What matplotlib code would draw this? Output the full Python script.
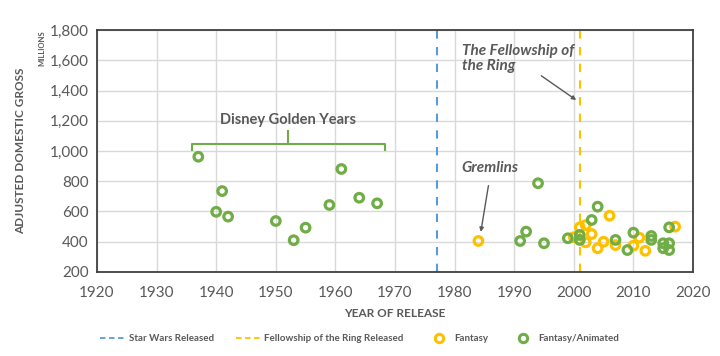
import matplotlib.pyplot as plt
from matplotlib.lines import Line2D

# data
disney_years = [1937, 1940, 1941, 1942, 1950, 1953, 1955, 1959, 1961, 1964, 1967]
disney_gross = [962, 598, 735, 566, 537, 410, 493, 643, 881, 691, 654]

anim_years = [1991, 1992, 1994, 1995, 1999, 2001, 2001, 2003, 2004, 2007, 2009,
              2010, 2013, 2013, 2015, 2015, 2016, 2016, 2016]
anim_gross = [405, 467, 787, 390, 423, 445, 412, 544, 632, 412, 345,
              460, 438, 412, 390, 357, 390, 345, 495]

fantasy_years = [1984, 2000, 2001, 2002, 2002, 2003, 2004, 2005, 2006, 2007,
                 2010, 2011, 2012, 2017]
fantasy_gross = [405, 430, 495, 510, 396, 451, 357, 400, 572, 378,
                 374, 427, 340, 500]

star_wars_year = 1977
fellowship_year = 2001

green = '#70AD47'
yellow = '#FFC000'
blue = '#5B9BD5'
gray = '#595959'

plt.rcParams['font.family'] = ['Lato', 'DejaVu Sans']

fig = plt.figure(figsize=(7.2, 3.56), dpi=100)
ax = fig.add_axes([0.1347, 0.236, 0.8278, 0.6797])

ax.set_xlim(1920, 2020)
ax.set_ylim(200, 1800)
ax.set_xticks(range(1920, 2021, 10))
ax.set_yticks(range(200, 1801, 200))
ax.set_yticklabels(['{:,}'.format(v) for v in range(200, 1801, 200)])
ax.grid(color='#D9D9D9', linewidth=1)
ax.set_axisbelow(True)
for s in ax.spines.values():
    s.set_color('#404040')
    s.set_linewidth(1.3)
ax.tick_params(length=0, labelsize=11, labelcolor=gray)
ax.tick_params(axis='x', pad=10)
ax.tick_params(axis='y', pad=6)

ax.axvline(star_wars_year, color=blue, linestyle=(0, (4, 4)), linewidth=1.5)
ax.axvline(fellowship_year, color=yellow, linestyle=(0, (4, 4)), linewidth=1.5)

mk = dict(marker='o', s=38, facecolors='none', linewidths=2.3, zorder=3)
ax.scatter(fantasy_years, fantasy_gross, edgecolors=yellow, **mk)
ax.scatter(disney_years + anim_years, disney_gross + anim_gross, edgecolors=green, **mk)

# Disney bracket
ax.plot([1936, 1936, 1968.3, 1968.3], [1007, 1046, 1046, 1007], color=green, lw=1.5,
        clip_on=False)
ax.plot([1952, 1952], [1046, 1130], color=green, lw=1.5)
ax.text(1952, 1205, 'Disney Golden Years', ha='center', va='center', fontsize=10.5,
        fontweight='bold', color=gray)

# annotations
ax.annotate('The Fellowship of\nthe Ring', xy=(2000.4, 1337), xytext=(1981.2, 1610),
            ha='left', va='center', fontsize=11, fontweight='bold', style='italic',
            color=gray, linespacing=1.05,
            arrowprops=dict(arrowstyle='-|>', color=gray, lw=1, mutation_scale=6,
                            shrinkA=0, shrinkB=0, relpos=(0.6, 0.2)))
ax.annotate('Gremlins', xy=(1984.4, 465), xytext=(1981.2, 890),
            ha='left', va='center', fontsize=11, fontweight='bold', style='italic',
            color=gray,
            arrowprops=dict(arrowstyle='-|>', color=gray, lw=1, mutation_scale=6,
                            shrinkA=6, shrinkB=0, relpos=(0.5, 0)))

ax.set_xlabel('YEAR OF RELEASE', fontsize=8.5, fontweight='bold', color=gray, labelpad=6)
ax.set_ylabel('ADJUSTED DOMESTIC GROSS', fontsize=8.5, fontweight='bold', color=gray,
              labelpad=17)
fig.text(0.058, 0.915, 'MILLIONS', rotation=90, ha='center', va='top', fontsize=5.5,
         fontweight='bold', color=gray)

handles = [
    Line2D([], [], color=blue, linestyle=(0, (3, 2)), lw=1.3),
    Line2D([], [], color=yellow, linestyle=(0, (3, 2)), lw=1.3),
    Line2D([], [], color=yellow, marker='o', linestyle='none', markersize=6,
           markerfacecolor='none', markeredgewidth=2.2),
    Line2D([], [], color=green, marker='o', linestyle='none', markersize=6,
           markerfacecolor='none', markeredgewidth=2.2),
]
labels = ['Star Wars Released', 'Fellowship of the Ring Released', 'Fantasy',
          'Fantasy/Animated']
fig.legend(handles, labels, loc='center', bbox_to_anchor=(0.5, 0.048), ncol=4,
           frameon=False, handlelength=2.6, handletextpad=0.3,
           columnspacing=2.3, labelcolor=gray,
           prop={'weight': 'bold', 'size': 7})

fig.savefig('out.png', dpi=100)
